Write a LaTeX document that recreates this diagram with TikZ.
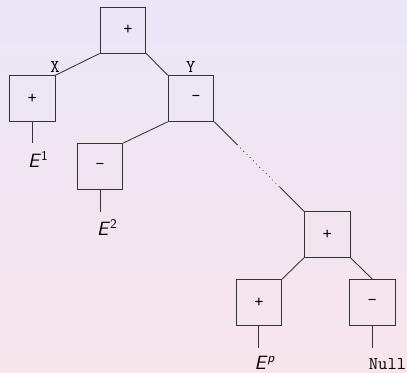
\documentclass[tikz,border=0pt]{standalone}
\usetikzlibrary{calc}
\definecolor{bgtop}{RGB}{234,230,246}
\definecolor{bgbot}{RGB}{247,229,236}
\newcommand{\boxfnt}{\fontsize{13.5}{16}\selectfont\ttfamily}
\newcommand{\efnt}{\fontsize{14.4}{17}\selectfont\sffamily}
\begin{document}
\begin{tikzpicture}[x=0.75pt,y=-0.75pt,
  box/.style={draw=black!80, line width=0.65pt, minimum size=34.3pt, inner sep=0pt, font=\boxfnt},
  edge/.style={draw=black!80, line width=0.65pt},
  ttlab/.style={inner sep=0pt, anchor=base, font=\boxfnt},
  elab/.style={inner sep=0pt, anchor=base, font=\efnt}]
\shade[top color=bgtop, bottom color=bgbot] (0,0) rectangle (407,372);
\useasboundingbox (0,0) rectangle (407,372);
% boxes
\node[box] (r) at (122.9,30.2) {\hspace*{7.5pt}+};
\node[box] (a) at (32.2,98.5) {+};
\node[box] (b) at (191,98.5) {\hspace*{7.5pt}-};
\node[box] (c) at (100,166.3) {-};
\node[box] (d) at (327.2,234.5) {+};
\node[box] (e) at (258.9,302.3) {+};
\node[box] (f) at (372.3,302.3) {-};
% labels
\node[ttlab] (lx) at (55,72) {X};
\node[ttlab] (ly) at (190.7,72) {Y};
% edges
\draw[edge] (r.south west) -- (a.north east);
\draw[edge] (r.south east) -- (b.north west);
\draw[edge] (b.south west) -- (c.north east);
\coordinate (m1) at ($(b.south east)!0.254!(d.north west)$);
\coordinate (m2) at ($(b.south east)!0.732!(d.north west)$);
\draw[edge] (b.south east) -- (m1);
\draw[edge, dash pattern=on 0.6pt off 2.8pt] (m1) -- (m2);
\draw[edge] (m2) -- (d.north west);
\draw[edge] (d.south west) -- (e.north east);
\draw[edge] (d.south east) -- (f.north);
% stubs
\coordinate (a1) at (32.2,143.3);
\coordinate (c1) at (100,211.7);
\coordinate (e1) at (258.9,347.5);
\coordinate (f1) at (372.3,347.5);
\draw[edge] (a.south) -- (a1);
\draw[edge] (c.south) -- (c1);
\draw[edge] (e.south) -- (e1);
\draw[edge] (f.south) -- (f1);
% leaf labels
\node[elab] (E1) at (38.2,167.5) {\textsl{E}\textsuperscript{1}};
\node[elab] (E2) at (107.2,235) {\textsl{E}\textsuperscript{2}};
\node[elab] (Ep) at (265,369.5) {\textsl{E}\textsuperscript{\textsl{p}}};
\node[ttlab] (nl) at (387.5,369.3) {Null};
\end{tikzpicture}
\end{document}
